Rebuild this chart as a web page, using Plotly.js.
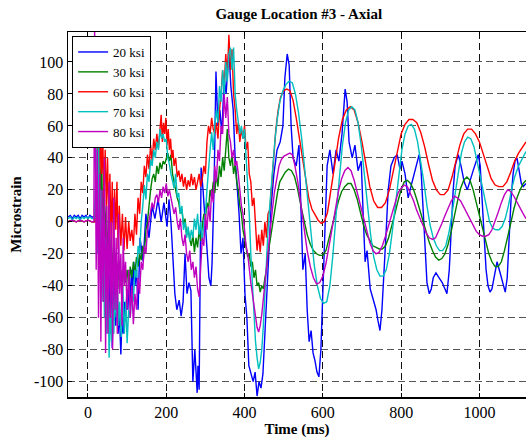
<!DOCTYPE html>
<html>
<head>
<meta charset="utf-8">
<script src="https://cdn.plot.ly/plotly-3.0.1.min.js"></script>
<style>html,body{margin:0;padding:0;background:#fff;}#chart{width:526px;height:441px;}</style>
</head>
<body>
<div id="chart"></div>
<script>
// Series names and colours
const seriesNames = ["20 ksi", "30 ksi", "60 ksi", "70 ksi", "80 ksi"];
const seriesColors = ["#0000FF", "#008000", "#FF0000", "#00BFBF", "#BF00BF"];

// [time (ms), microstrain] samples
const ksi20 = [[-51,3],[-45,4],[-40,2],[-35,4],[-30,3],[-25,4],[-20,2],[-15,4],[-10,3],[-5,4],[0,2],[5,4],[10,3],[15,3],[18,4],
[20,30],[23,-10],[26,45],[29,-20],[32,20],[35,-40],[38,10],[41,-50],[44,5],[47,-30],[50,-60],[53,-20],[56,-70],[59,-40],[62,-79],[65,-50],[68,-30],[71,-65],[74,-45],[77,-70],[80,-55],[84,-83],[87,-60],[90,-70],[93,-50],[96,-62],[99,-45],[102,-55],[105,-35],[108,-50],[111,-30],[114,-45],[117,-25],[120,-40],[124,-30],[128,-55],[132,-20],
[133,-10],[141,-25],[148,5],[156,-10],[164,10],[171,2],[179,14],[187,0],[194,12],[202,-3],[207,14],[212,0],[217,-20],[222,-45],[227,-55],[233,-49],[238,-59],[243,-50],[248,-20],[253,-45],[258,-38],[263,-43],[268,-100],[273,-80],[279,-107],[281,-90],[284,-105],[286,-40],[289,34],[294,20],[299,0],[304,-15],[309,-35],[314,-40],[317,-26],[322,20],[327,94],[332,60],[337,70],[342,55],[348,90],[353,80],[358,104],[360,108],[365,85],[371,70],[376,40],[381,25],[386,5],[391,-20],[396,-10],[401,-45],[406,-60],[411,-90],[417,-96],[422,-100],[427,-94],[432,-109],[437,-100],[442,-104],[447,-95],[452,-70],[457,-40],[463,-10],[468,10],[475,30],[483,45],[491,50],[498,60],[503,90],[509,105],[514,98],[519,60],[524,40],[532,35],[539,48],[544,10],[549,-30],[555,-20],[560,-55],[565,-75],[570,-68],[575,-82],[580,-87],[585,-94],[590,-97],[595,-80],[601,-40],[606,5],[611,35],[618,45],[626,30],[634,45],[641,38],[649,55],[657,83],[662,75],[667,50],[675,40],[682,48],[690,32],[698,38],[703,5],[708,-25],[713,-18],[721,-42],[728,-48],[736,-55],[741,-62],[746,-68],[751,-55],[756,-35],[762,-5],[767,20],[774,35],[782,40],[790,42],[797,33],[802,38],[810,30],[818,15],[825,22],[833,30],[841,38],[846,42],[851,32],[856,10],[861,-20],[866,-38],[872,-45],[877,-42],[882,-35],[889,-32],[897,-35],[905,-38],[912,-42],[917,-45],[923,-30],[928,0],[933,20],[938,35],[946,42],[953,35],[961,25],[969,20],[976,25],[984,32],[992,38],[997,42],[1002,35],[1007,15],[1012,-10],[1017,-30],[1022,-40],[1027,-44],[1032,-42],[1038,-35],[1045,-25],[1053,-32],[1061,-40],[1066,-44],[1071,-35],[1076,-10],[1081,15],[1086,30],[1091,38],[1096,40],[1102,32],[1107,24],[1112,22],[1119,24]];

const ksi30 = [[-51,0],[-40,1],[-30,0],[-20,1],[-10,0],[0,1],[10,0],[18,0],
[20,15],[23,45],[26,10],[29,56],[32,5],[35,40],[38,-5],[41,25],[44,-15],[47,10],[50,-25],[53,0],[56,-30],[59,-10],[62,-35],[65,-15],[68,-40],[71,-20],[74,-38],[77,-25],[80,-42],[84,-30],[88,-40],[92,-28],[96,-38],[100,-30],[104,-40],[108,-28],[112,-35],[116,-25],[120,-32],[124,-22],[128,-28],[132,-20],[136,-24],[140,-15],[144,-20],[148,-5],[152,0],[156,12],[160,20],[164,27],[168,30],[172,25],[176,35],[180,30],[184,37],[188,33],[192,38],[196,36],[200,40],[204,43],[208,38],[212,42],[216,30],[220,26],[224,20],[228,15],[232,12],[236,5],[240,8],[244,-2],[248,2],[252,-8],[256,-5],[260,-11],[264,-15],[268,-8],[272,-19],[276,-10],[280,-16],[284,-5],[288,-12],
[292,-3],[296,5],[300,2],[304,12],[308,8],[312,20],[316,15],[320,25],[324,18],[328,30],[332,22],[336,35],[340,28],[344,40],[348,32],[352,45],[356,58],[360,40],[364,35],[368,42],[372,30],[376,36],[380,25],[384,20],[388,10],[392,5],[396,-5],[400,-10],[404,-15],[408,-22],[412,-20],[416,-28],[420,-25],[424,-35],[428,-30],[432,-40],[436,-38],[440,-44],[444,-40],[448,-42],[452,-35],[456,-30],[460,-20],[466,-10],[472,0],[478,10],[484,18],[490,25],[496,28],[504,31],[512,33],[520,32],[528,28],[536,20],[544,10],[552,0],[560,-8],[568,-14],[576,-18],[584,-20],[592,-21],[600,-21],[608,-18],[616,-10],[624,-2],[632,6],[640,13],[648,19],[656,22],[664,24],[672,24],[680,20],[688,14],[696,6],[704,-2],[712,-8],[720,-12],[728,-15],[736,-16],[744,-17],[752,-17],[760,-15],[768,-10],[776,-3],[784,5],[792,13],[800,20],[808,25],[816,26],[824,24],[832,20],[840,14],[848,7],[856,0],[864,-7],[872,-13],[880,-18],[888,-22],[896,-24],[904,-23],[912,-20],[920,-14],[928,-6],[936,4],[944,13],[952,21],[960,26],[968,28],[976,26],[984,20],[992,12],[1000,4],[1008,-5],[1016,-13],[1024,-20],[1032,-25],[1040,-28],[1048,-28],[1056,-25],[1064,-18],[1072,-10],[1080,-1],[1088,8],[1096,15],[1104,20],[1112,24],[1119,26]];

const ksi60 = [[-51,0],[-40,1],[-30,0],[-20,1],[-10,0],[0,1],[10,0],[18,0],
[20,10],[23,35],[26,55],[29,20],[32,60],[35,30],[38,50],[41,15],[44,45],[47,10],[50,40],[53,0],[56,30],[59,-10],[62,25],[65,-15],[68,20],[71,-5],[74,25],[77,-17],[80,10],[84,-15],[88,5],[92,-18],[96,3],[100,-17],[104,0],[108,-12],[112,-5],[116,-15],[120,5],[124,-8],[128,15],[132,5],[136,25],[140,18],[144,35],[148,28],[152,42],[156,33],[160,48],[164,38],[168,52],[172,45],[176,55],[180,46],[184,60],[187,67],[190,50],[193,62],[196,55],[199,65],[202,48],[205,58],[208,45],[211,52],[214,40],[217,45],[220,35],[224,40],[228,28],[232,32],[236,25],[240,30],[244,22],[248,28],[252,20],[256,26],[260,22],[264,30],[268,23],[272,28],[276,20],[280,25],[284,30],[288,22],[292,27],[296,35],[300,30],[304,50],[308,60],[312,55],[316,65],[320,58],[324,55],[328,62],[332,52],[336,70],[340,80],[344,95],[348,85],[352,105],[356,90],[360,117],[364,95],[368,108],[372,80],[376,70],[380,55],[384,62],[388,50],[392,58],[396,52],[400,60],[404,45],[408,50],[412,30],[416,25],[420,10],[424,15],[428,-5],[432,-18],[436,-8],[440,-19],[444,-5],[448,-15],[452,0],[456,-10],[460,5],[465,8],[470,25],[475,45],[480,58],[486,70],[492,78],[500,82],[508,83],[516,82],[524,76],[532,65],[540,52],[548,38],[556,26],[564,15],[572,8],[580,4],[588,1],[596,-1],[604,0],[612,6],[620,18],[630,35],[640,52],[650,64],[660,70],[670,72],[680,70],[690,62],[700,50],[710,35],[720,22],[730,13],[740,9],[750,9],[760,12],[770,20],[780,32],[790,45],[800,55],[810,61],[820,64],[830,64],[840,62],[850,56],[860,47],[870,36],[880,26],[890,20],[900,17],[910,17],[920,20],[930,28],[940,38],[950,48],[960,55],[970,58],[980,58],[990,55],[1000,50],[1010,42],[1020,34],[1030,27],[1040,23],[1050,22],[1060,22],[1070,25],[1080,31],[1090,38],[1100,43],[1110,47],[1119,50]];

const ksi70 = [[-51,2],[-45,3],[-40,1],[-35,3],[-30,2],[-25,3],[-20,1],[-15,3],[-10,2],[-5,3],[0,2],[5,3],[10,2],[15,2],[18,3],
[21,50],[24,-20],[27,56],[30,-30],[33,20],[36,-50],[39,0],[42,-60],[45,-10],[48,-70],[51,-30],[54,-85],[57,-50],[60,-75],[63,-40],[66,-70],[69,-45],[72,-60],[75,-35],[78,-65],[81,-50],[85,-72],[89,-40],[93,-70],[97,-50],[100,-76],[104,-55],[108,-60],[112,-45],[116,-50],[120,-30],[124,-35],[128,-15],[132,-20],[136,0],[140,10],[144,23],[148,14],[152,30],[156,25],[160,39],[164,35],[168,45],[172,40],[176,50],[180,45],[184,58],[188,52],[192,55],[196,50],[200,52],[204,40],[208,36],[212,30],[216,25],[220,21],[224,30],[228,15],[232,18],[236,5],[240,10],[244,-5],[248,0],[252,-10],[256,-3],[260,-12],[264,-5],[268,-10],[272,2],[276,-5],[280,5],[284,-8],[288,0],[292,-14],[296,0],[300,5],[304,20],[308,35],[312,45],[316,56],[320,45],[324,60],[328,70],[332,62],[336,85],[340,75],[344,95],[348,80],[352,100],[356,88],[360,105],[364,109],[368,95],[372,109],[376,80],[380,70],[384,62],[388,55],[392,60],[396,52],[400,58],[404,40],[408,25],[412,5],[416,-20],[420,-40],[424,-60],[428,-75],[432,-85],[436,-92],[440,-88],[444,-80],[448,-65],[452,-45],[456,-25],[460,-5],[466,15],[472,35],[478,52],[484,65],[490,75],[498,82],[506,86],[514,88],[522,87],[530,80],[538,68],[546,52],[554,32],[562,10],[570,-10],[578,-27],[586,-40],[594,-48],[602,-51],[610,-50],[618,-40],[626,-20],[634,5],[642,28],[650,48],[658,62],[666,70],[674,72],[682,70],[690,62],[698,48],[706,30],[714,10],[722,-8],[730,-22],[738,-30],[746,-34],[754,-34],[762,-30],[770,-20],[778,-5],[786,12],[794,30],[802,45],[810,55],[818,60],[826,61],[834,58],[842,50],[850,38],[858,25],[866,10],[874,-2],[882,-10],[890,-15],[898,-18],[906,-18],[914,-15],[922,-7],[930,5],[938,18],[946,32],[954,43],[962,50],[970,53],[978,52],[986,47],[994,38],[1002,28],[1010,18],[1018,8],[1026,0],[1034,-4],[1042,-5],[1050,-5],[1058,-3],[1066,2],[1074,10],[1082,20],[1090,28],[1100,35],[1110,40],[1119,44]];

const ksi80 = [[-51,0],[-40,1],[-30,0],[-20,1],[-10,0],[0,1],[10,0],[15,0],
[17,122],[19,60],[21,-30],[24,45],[27,-60],[30,30],[33,-75],[36,20],[39,-50],[42,40],[45,-82],[48,10],[51,-70],[54,25],[57,-60],[60,0],[63,-80],[66,15],[69,-55],[72,-10],[75,-70],[78,5],[81,-45],[84,-20],[87,-65],[90,-10],[93,-40],[96,-25],[100,-55],[104,-30],[108,-60],[112,-40],[116,-64],[120,-45],[124,-55],[128,-35],[132,-45],[136,-25],[140,-30],[144,-15],[148,-20],[152,-5],[156,0],[160,5],[164,12],[168,8],[172,15],[176,17],[180,12],[184,20],[188,15],[192,22],[196,18],[200,24],[204,16],[208,20],[212,14],[216,10],[220,5],[224,9],[228,0],[232,-5],[236,2],[240,-10],[244,-15],[248,-8],[252,-20],[256,-25],[260,-18],[264,-30],[268,-25],[272,-35],[276,-28],[280,-42],[284,-47],[288,-30],[292,-10],[296,-15],[300,5],[304,-5],[308,10],[312,0],[316,20],[320,12],[324,35],[328,25],[332,45],[336,38],[340,60],[344,55],[348,80],[352,65],[356,78],[360,55],[364,50],[368,40],[372,45],[376,35],[380,38],[384,30],[388,20],[392,10],[396,5],[400,-5],[404,-15],[408,-20],[412,-30],[416,-38],[420,-45],[424,-52],[428,-60],[432,-66],[436,-69],[440,-65],[444,-58],[448,-48],[452,-36],[458,-22],[464,-8],[470,5],[476,18],[482,28],[488,35],[494,39],[500,41],[508,42],[516,43],[522,42],[528,36],[536,25],[544,10],[552,-5],[560,-18],[568,-28],[576,-35],[584,-39],[592,-38],[600,-34],[608,-26],[616,-15],[624,-3],[632,9],[640,19],[648,27],[656,32],[664,34],[672,32],[680,26],[688,18],[696,10],[704,2],[712,-6],[720,-13],[728,-18],[736,-20],[744,-19],[752,-15],[760,-9],[768,-2],[776,5],[784,12],[792,18],[800,21],[808,23],[816,22],[824,18],[832,13],[840,7],[848,2],[856,-3],[864,-7],[872,-10],[880,-11],[888,-10],[896,-6],[904,-1],[912,4],[920,9],[928,13],[936,16],[944,15],[952,13],[960,9],[968,5],[976,1],[984,-3],[992,-6],[1000,-8],[1008,-9],[1016,-9],[1024,-8],[1032,-5],[1040,0],[1048,6],[1056,12],[1064,17],[1072,20],[1080,19],[1088,16],[1096,12],[1104,8],[1112,5],[1119,2]];

const xTicks = [0, 200, 400, 600, 800, 1000];
const yTicks = [-100, -80, -60, -40, -20, 0, 20, 40, 60, 80, 100];

const allSeries = [ksi20, ksi30, ksi60, ksi70, ksi80];
const traces = allSeries.map((s, i) => ({
  type: "scatter",
  mode: "lines",
  name: seriesNames[i],
  x: s.map(p => p[0]),
  y: s.map(p => p[1]),
  line: {color: seriesColors[i], width: 1.4},
  hoverinfo: "skip"
}));

const font = "'Liberation Serif', 'Times New Roman', serif";
const layout = {
  width: 526, height: 441,
  margin: {l: 68, r: 0, t: 32, b: 44, pad: 0},
  paper_bgcolor: "#fff", plot_bgcolor: "#fff",
  font: {family: font, color: "#000", size: 16},
  title: {text: "<b>Gauge Location #3 - Axial</b>", font: {family: font, size: 15, color: "#000"}, x: 0.568, xanchor: "center", y: 0.968, yanchor: "middle"},
  showlegend: true,
  legend: {x: 0.009, y: 0.989, xanchor: "left", yanchor: "top", bgcolor: "#fff", bordercolor: "#000", borderwidth: 1, font: {family: font, size: 13, color: "#000"}},
  xaxis: {
    range: [-51, 1119], tickvals: xTicks, ticktext: xTicks.map(String),
    showline: true, linecolor: "#000", linewidth: 1.5, mirror: "ticks",
    ticks: "inside", ticklen: 4, tickcolor: "#000",
    showgrid: true, gridcolor: "#111", griddash: "7px,4px", gridwidth: 1,
    zeroline: false,
    tickfont: {family: font, size: 16, color: "#000"},
    title: {text: "<b>Time (ms)</b>", font: {family: font, size: 15, color: "#000"}, standoff: 2}
  },
  yaxis: {
    range: [-109.6, 118.75], tickvals: yTicks, ticktext: yTicks.map(String),
    showline: true, linecolor: "#000", linewidth: 1.5, mirror: false,
    ticks: "inside", ticklen: 4, tickcolor: "#000",
    showgrid: true, gridcolor: "#555", griddash: "7px,4px", gridwidth: 1,
    zeroline: false,
    tickfont: {family: font, size: 16, color: "#000"},
    title: {text: "<b>Microstrain</b>", font: {family: font, size: 15, color: "#000"}, standoff: 8}
  }
};

Plotly.newPlot("chart", traces, layout, {staticPlot: true, displayModeBar: false});
</script>
</body>
</html>
